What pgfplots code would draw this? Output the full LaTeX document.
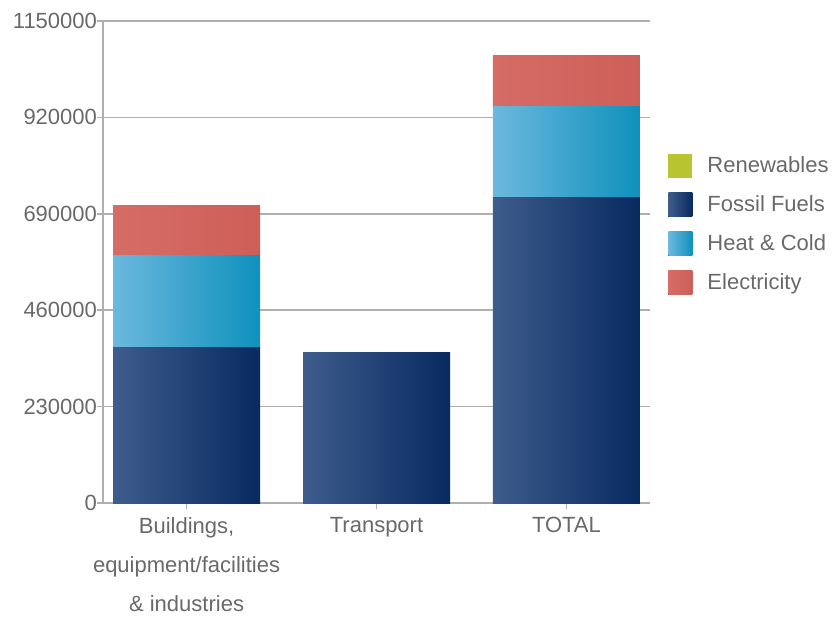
\documentclass[border=0pt]{standalone}
\usepackage{pgfplots}
\pgfplotsset{compat=1.18}
\usepackage{fontspec}
\setmainfont{Liberation Sans}
\definecolor{txt}{RGB}{105,105,105}
\definecolor{gridc}{RGB}{175,175,175}
\definecolor{fosL}{RGB}{62,92,140}
\definecolor{fosR}{RGB}{8,42,96}
\definecolor{heatL}{RGB}{108,184,222}
\definecolor{heatR}{RGB}{14,145,188}
\definecolor{elL}{RGB}{214,108,102}
\definecolor{elR}{RGB}{206,94,88}
\definecolor{ren}{RGB}{184,196,48}
\pgfplotsset{
  sq/.style={legend image code/.code={\fill[##1] (0pt,-6pt) rectangle (12pt,6pt);}},
  base/.style={scale only axis, width=273.5pt, height=241pt,
    ybar stacked, bar width=0.774,
    xmin=-0.44, xmax=2.44, ymin=0, ymax=1150000},
  fos/.style={sq, draw=none, left color=fosL, right color=fosR},
  heat/.style={sq, draw=none, left color=heatL, right color=heatR},
  el/.style={sq, draw=none, left color=elL, right color=elR},
}
\begin{document}
\begin{tikzpicture}
\begin{axis}[
  base, name=ax,
  xtick={0,1,2},
  xticklabels={{Buildings,\\equipment/facilities\\\& industries},Transport,TOTAL},
  ytick={0,230000,460000,690000,920000,1150000},
  scaled y ticks=false,
  yticklabel style={/pgf/number format/fixed,/pgf/number format/1000 sep={}, xshift=3.5pt},
  xticklabel style={align=center, yshift=-0.5pt},
  /pgf/number format/assume math mode=true,
  axis x line*=bottom, axis y line*=left,
  axis line style={gridc, line width=0.8pt, -},
  ymajorgrids, grid style={gridc, line width=0.8pt},
  tick style={gridc, line width=0.8pt},
  major tick length=3pt, tick align=outside,
  tick label style={txt, font=\fontsize{11}{19.5}\selectfont},
  legend style={at={(rel axis cs:1.033,0.728)}, anchor=north west, draw=none, fill=none, font=\fontsize{11}{13}\selectfont, text=txt, row sep=6pt, column sep=5.5pt, inner sep=0pt, legend cell align=left},
]
\addlegendimage{sq, fill=ren, draw=none}
\addlegendentry{Renewables}
% Buildings, equipment/facilities & industries
\addplot[fos] coordinates {(0,372000)};
\addlegendentry{Fossil Fuels}
\addplot[heat] coordinates {(0,218000)};
\addlegendentry{Heat \& Cold}
\addplot[el] coordinates {(0,120000)};
\addlegendentry{Electricity}
\coordinate (bbA) at (rel axis cs:-0.1883,-0.2303);
\coordinate (bbB) at (rel axis cs:1.3382,1.0436);
\end{axis}
% Transport
\begin{axis}[base, hide axis, at={(ax.south west)}, anchor=south west]
\addplot[fos] coordinates {(1,358000)};
\end{axis}
% TOTAL
\begin{axis}[base, hide axis, at={(ax.south west)}, anchor=south west]
\addplot[fos] coordinates {(2,730000)};
\addplot[heat] coordinates {(2,217000)};
\addplot[el] coordinates {(2,120000)};
\end{axis}
\path (bbA) rectangle (bbB);
\end{tikzpicture}
\end{document}
